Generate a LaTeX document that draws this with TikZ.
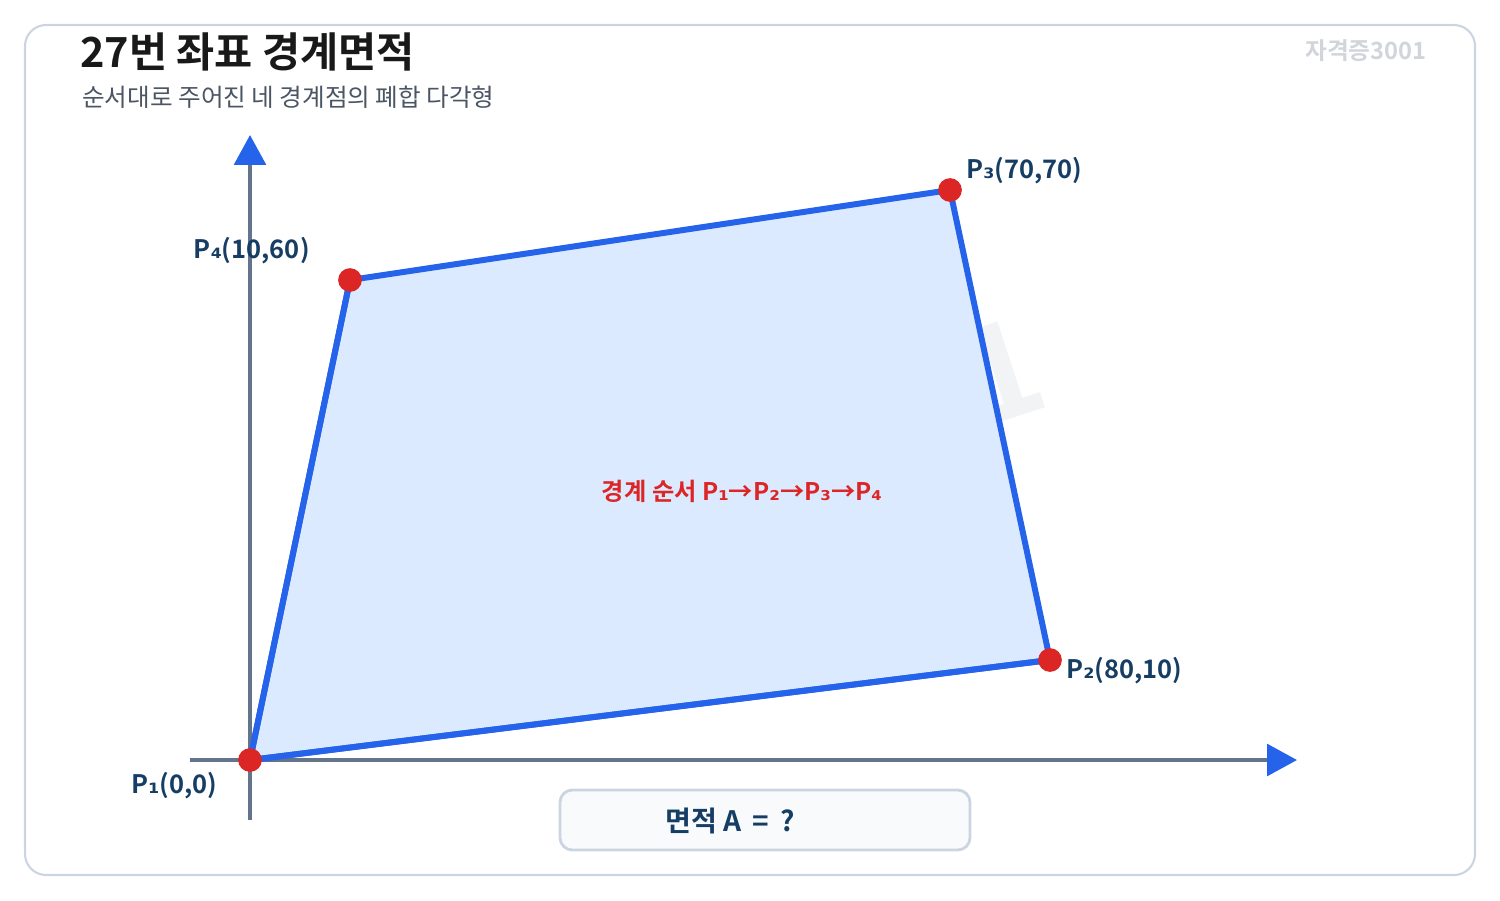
\documentclass[tikz,border=0pt]{standalone}
\usepackage{fontspec}
\setmainfont{Noto Sans CJK KR}[BoldFont={Noto Sans CJK KR Bold}]
\newfontfamily\subfont{DejaVu Sans}
\newcommand\ps[1]{{\subfont\bfseries #1}}
\usetikzlibrary{arrows.meta}
\definecolor{axisgray}{HTML}{64748B}
\definecolor{polyblue}{HTML}{2563EB}
\definecolor{polyfill}{HTML}{DBEAFE}
\definecolor{dotred}{HTML}{DC2626}
\definecolor{navy}{HTML}{163E64}
\definecolor{frame}{HTML}{CBD5E1}
\definecolor{faint}{HTML}{D1D5DB}
\definecolor{wmark}{HTML}{F1F3F5}
\definecolor{boxfill}{HTML}{F8FAFC}
\definecolor{subgray}{HTML}{4B5563}
\tikzset{
  axis/.style={draw=axisgray, line width=2.1pt, -{Triangle[length=17pt,width=18pt,color=polyblue]}},
  vertex/.style={circle, fill=dotred, inner sep=0pt, minimum size=13.5pt},
  plabel/.style={font=\bfseries\fontsize{14.5}{16}\selectfont, text=navy, inner sep=0pt}
}
\begin{document}
\begin{tikzpicture}[x=0.02cm, y=-0.02cm]
	    \useasboundingbox (0,0) rectangle (1500,900);
	    \draw[frame, line width=1.2pt, rounded corners=12pt] (25,25) rectangle (1475,875);
	    \node[anchor=base west, inner sep=0pt, font=\bfseries\fontsize{23.6}{26}\selectfont, text=black!90] (title) at (80,67) {27번 좌표 경계면적};
	    \node[anchor=base west, inner sep=0pt, font=\fontsize{14}{16}\selectfont, text=subgray] (subtitle) at (82,106) {순서대로 주어진 네 경계점의 폐합 다각형};
	    \node[font=\bfseries\fontsize{13.5}{16}\selectfont, text=faint] (brand) at (1366,51) {자격증3001};
	    \node[anchor=base east, inner sep=0pt, font=\bfseries\fontsize{76}{80}\selectfont, text=wmark, rotate=18] (wm) at (1054,405) {자격증3001};
	    <br>
	    \coordinate (p1) at (250,760);
	    \coordinate (p2) at (1050,660);
	    \coordinate (p3) at (950,190);
	    \coordinate (p4) at (350,280);
	    \coordinate (xs) at (190,760);
	    \coordinate (xe) at (1297,760);
	    \coordinate (ys) at (250,820);
	    \coordinate (ye) at (250,135);
	    <br>
	    \draw[axis] (ys) -- (ye);
	    \draw[axis] (xs) -- (xe);
	    \draw[draw=polyblue, fill=polyfill, line width=3.4pt, line join=round] (p1) -- (p2) -- (p3) -- (p4) -- cycle;
	    \draw[axisgray, line width=2.1pt] (ys) -- (p1);
	    \draw[polyblue, line width=3.4pt, line cap=round] (p1) -- (p2);
	    \draw[polyblue, line width=3.4pt, line cap=round] (p4) -- (p1);
	    <br>
	    \node[vertex] (v1) at (p1) {};
	    \node[vertex] (v2) at (p2) {};
	    \node[vertex] (v3) at (p3) {};
	    \node[vertex] (v4) at (p4) {};
	    <br>
	    \node[plabel, anchor=west] (l1) at (131,786) {P\ps{₁}(0,0)};
	    \node[plabel, anchor=west] (l2) at (1066,671) {P\ps{₂}(80,10)};
	    \node[plabel, anchor=west] (l3) at (966,171) {P\ps{₃}(70,70)};
	    \node[plabel, anchor=east] (l4) at (310,251) {P\ps{₄}(10,60)};
	    <br>
	    \node[font=\bfseries\fontsize{13.8}{16}\selectfont, text=dotred] (order) at (742,491) {경계 순서 P\ps{₁}→P\ps{₂}→P\ps{₃}→P\ps{₄}};
	    \draw[frame, fill=boxfill, line width=1.6pt, rounded corners=7pt] (560,790) rectangle (970,850);
	    \node[font=\bfseries\fontsize{16}{18}\selectfont, text=navy] (area) at (730,821) {면적 A \,=\, ?};
	\end{tikzpicture}
\end{document}
